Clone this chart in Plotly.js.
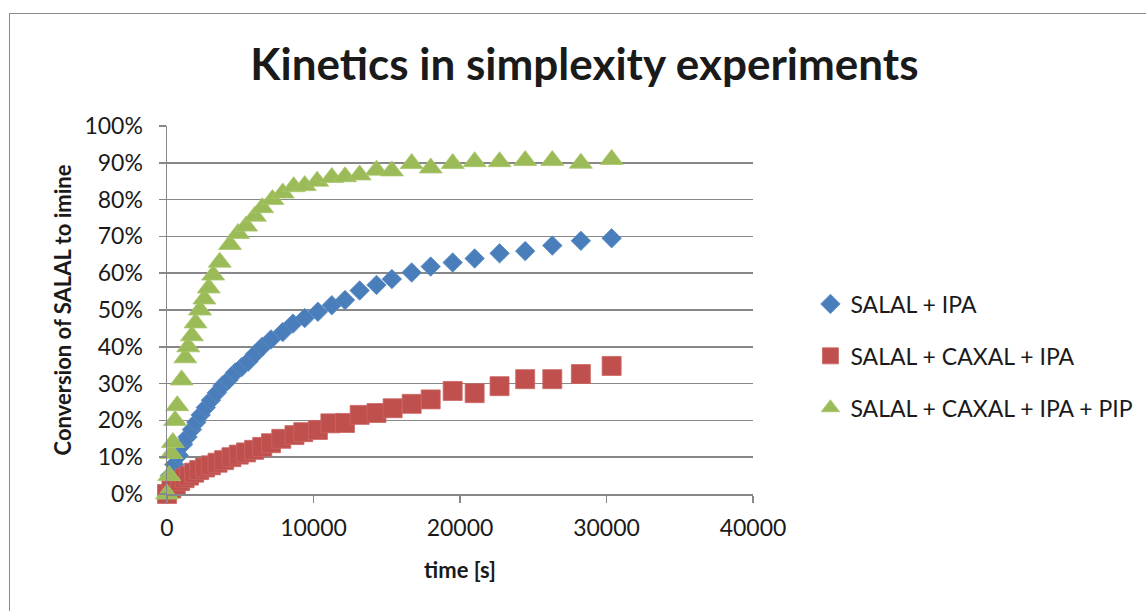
<!DOCTYPE html>
<html>
<head>
<meta charset="utf-8">
<script src="https://cdn.plot.ly/plotly-3.0.1.min.js"></script>
<style>
  html, body { margin: 0; padding: 0; background: #fff; overflow: hidden; }
  #chart { width: 1146px; height: 611px; }
  #frame { position: absolute; left: 9px; top: 13px; width: 1400px; height: 900px;
           border: 1.5px solid #8a8a8a; pointer-events: none; }
</style>
</head>
<body>
<div id="chart"></div>
<div id="frame"></div>
<script>
// time [s]
const tBlue = [0, 200, 500, 800, 1100, 1400, 1700, 2000, 2300, 2650, 3000, 3400, 3800, 4200, 4650, 5100, 5550, 6000, 6500, 7100, 7900, 8600, 9400, 10300, 11250, 12150, 13150, 14300, 15350, 16700, 18000, 19500, 21000, 22700, 24450, 26300, 28250, 30350];
const vBlue = [0, 5, 8, 10.5, 13.5, 15.5, 17.5, 19.5, 21.5, 23.5, 25.5, 27.5, 29.5, 31, 33, 34.5, 36, 38, 40, 42, 44, 46.3, 47.8, 49.5, 51.3, 52.7, 55.3, 56.8, 58.4, 60.2, 61.8, 62.9, 64, 65.4, 66, 67.5, 68.8, 69.5];

const tRed = [0, 300, 600, 900, 1200, 1500, 1850, 2200, 2600, 3000, 3450, 3900, 4400, 4900, 5400, 5950, 6500, 7100, 7800, 8700, 9300, 10300, 11150, 12150, 13150, 14300, 15400, 16700, 18000, 19500, 21000, 22700, 24450, 26300, 28250, 30350];
const vRed = [0, 1.5, 2.5, 3.5, 4.3, 5, 5.8, 6.5, 7.2, 7.8, 8.5, 9.2, 10, 10.7, 11.3, 12, 12.8, 13.8, 15, 16, 16.8, 17.4, 19.2, 19.3, 21.5, 22, 23.3, 24.5, 25.7, 28, 27.4, 29.3, 31.2, 31.2, 32.6, 34.8];

const tGreen = [0, 150, 300, 400, 550, 700, 1000, 1250, 1450, 1700, 1950, 2250, 2550, 2850, 3150, 3600, 4300, 4850, 5400, 6000, 6500, 7200, 7900, 8650, 9400, 10250, 11250, 12150, 13150, 14300, 15350, 16700, 18000, 19500, 21000, 22700, 24450, 26300, 28250, 30350];
const vGreen = [0, 5, 11, 14, 20, 24, 31, 37, 40, 43, 46.5, 50, 53, 56, 59.5, 63, 67.8, 70.8, 72.8, 75.5, 77.8, 80, 81.8, 83.5, 83.8, 85, 86, 86.2, 86.7, 88, 87.8, 89.8, 88.6, 89.8, 90.3, 90.3, 90.6, 90.6, 89.9, 90.9];

const names = ["SALAL + IPA", "SALAL + CAXAL + IPA", "SALAL + CAXAL + IPA + PIP"];

const traces = [
  { x: tBlue, y: vBlue, name: names[0], type: "scatter", mode: "markers", legendgroup: "a", cliponaxis: false,
    marker: { symbol: "diamond", size: 15, color: "#4A7EBB", line: { width: 0.8, color: "#5B8BC6" } } },
  { x: tRed, y: vRed, name: names[1], type: "scatter", mode: "markers", legendgroup: "b", cliponaxis: false,
    marker: { symbol: "square", size: 19, color: "#C0504D", line: { width: 0.8, color: "#CC6663" } } },
  { x: tGreen, y: vGreen, name: names[2], type: "scatter", mode: "markers", legendgroup: "c", cliponaxis: false,
    marker: { symbol: "triangle-up", size: 20, color: "#9BBB59", line: { width: 0.8, color: "#A8C66A" } } }
];

const axisCol = "#878787";
const layout = {
  width: 1146, height: 611,
  paper_bgcolor: "#ffffff", plot_bgcolor: "#ffffff",
  margin: { l: 167, r: 393, t: 126, b: 117, autoexpand: false },
  font: { family: "Lato, 'Open Sans', sans-serif", color: "#1a1a1a", size: 23 },
  title: { text: "Kinetics in simplexity experiments", x: 0.51, xanchor: "center", y: 0.895, yanchor: "middle",
           font: { family: "Lato, 'Open Sans', sans-serif", size: 44, color: "#1a1a1a", weight: "bold" } },
  xaxis: {
    range: [0, 40000], dtick: 10000, tick0: 0, tickformat: "d",
    showgrid: false, zeroline: false, automargin: false,
    showline: true, linecolor: axisCol, linewidth: 1.5,
    ticks: "outside", ticklen: 7, tickcolor: axisCol, tickwidth: 1.5,
    ticklabelstandoff: 6,
    tickfont: { size: 23, color: "#1a1a1a" },
    title: { text: "time [s]", standoff: 22, font: { size: 22, weight: "bold", color: "#1a1a1a" } }
  },
  yaxis: {
    range: [0, 100], dtick: 10, tick0: 0, ticksuffix: "%",
    showgrid: true, gridcolor: axisCol, gridwidth: 1.5, zeroline: false, automargin: false,
    showline: true, linecolor: axisCol, linewidth: 1.5,
    ticks: "outside", ticklen: 7, tickcolor: axisCol, tickwidth: 1.5,
    ticklabelstandoff: 11,
    tickfont: { size: 23, color: "#1a1a1a" },
    title: { text: "Conversion of SALAL to imine", standoff: 6, font: { size: 22, weight: "bold", color: "#1a1a1a" } }
  },
  showlegend: true,
  legend: {
    x: 1.098, xanchor: "left", y: 0.375, yanchor: "middle",
    font: { size: 23, color: "#1a1a1a" },
    traceorder: "grouped", tracegroupgap: 19,
    itemwidth: 30, bgcolor: "rgba(0,0,0,0)"
  }
};

Plotly.newPlot("chart", traces, layout, { displayModeBar: false, staticPlot: true });
</script>
</body>
</html>
